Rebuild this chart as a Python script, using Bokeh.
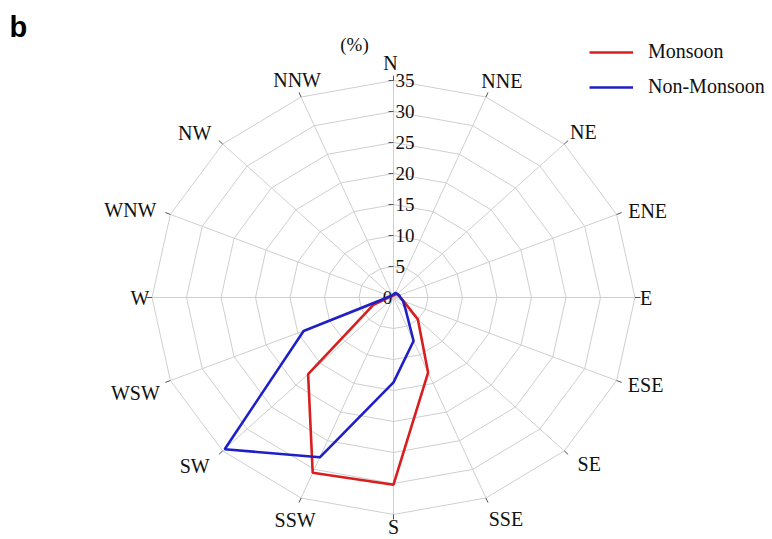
import numpy as np
from bokeh.plotting import figure
from bokeh.models import Range1d, Legend, LegendItem, Label
from bokeh.core.properties import value
from bokeh.embed import file_html
from bokeh.resources import INLINE

# ---- data ----
directions = ["N", "NNE", "NE", "ENE", "E", "ESE", "SE", "SSE",
              "S", "SSW", "SW", "WSW", "W", "WNW", "NW", "NNW"]
monsoon = [0.3, 0.5, 0.8, 0.8, 1.0, 1.6, 5.0, 13.1,
           30.2, 30.6, 17.5, 3.2, 0.8, 0.4, 0.3, 0.3]
non_monsoon = [0.5, 0.8, 0.8, 0.9, 1.0, 1.5, 2.4, 7.6,
               13.7, 27.9, 34.6, 14.1, 0.9, 0.5, 0.4, 0.4]
radial_ticks = [0, 5, 10, 15, 20, 25, 30, 35]
series_names = ["Monsoon", "Non-Monsoon"]

# ---- layout / style ----
W, H = 772, 539
CX, CY = 393, 297          # pixel position of the rose centre
XS, YS = 6.9, 6.2          # pixels per percent, horizontally / vertically
RMAX = radial_ticks[-1]
SERIF = value("Liberation Serif")
GRID = "#cfcfcf"
RED = "#d81e1e"
BLUE = "#1f1fc8"

# label offsets in pixels (dx, dy screen-down), one per direction
label_offsets = [(-3, -18), (16, -16), (19, -12), (31, -3), (11, 0), (29, 4),
                 (25, 13), (20, 21), (0, 12), (-6, 22), (-28, 15), (-35, 12),
                 (-12, 0), (-40, -4), (-28, -11), (-4, -17)]

p = figure(width=W, height=H,
           x_range=Range1d(-CX / XS, (W - CX) / XS),
           y_range=Range1d(-(H - CY) / YS, CY / YS),
           output_backend="svg", toolbar_location=None, min_border=0)
p.axis.visible = False
p.grid.visible = False
p.outline_line_color = None
p.background_fill_color = "white"

n = len(directions)
theta = np.deg2rad(np.arange(n) * 360.0 / n)
sx, cy = np.sin(theta), np.cos(theta)

# rings (16-gons)
ring_xs, ring_ys = [], []
for r in radial_ticks[1:]:
    ring_xs.append(list(np.append(r * sx, r * sx[0])))
    ring_ys.append(list(np.append(r * cy, r * cy[0])))
p.multi_line(ring_xs, ring_ys, line_color=GRID, line_width=1)

# spokes
p.segment(x0=[0] * n, y0=[0] * n, x1=list(RMAX * sx), y1=list(RMAX * cy),
          line_color=GRID, line_width=1)
# small dark ticks at spoke ends
p.segment(x0=list(RMAX * sx), y0=list(RMAX * cy),
          x1=list((RMAX + 0.8) * sx), y1=list((RMAX + 0.8) * cy),
          line_color="#555555", line_width=1)

# radial axis along N
rt = radial_ticks[1:]
p.segment(x0=[-5 / XS] * len(rt), y0=rt, x1=[0] * len(rt), y1=rt,
          line_color="#555555", line_width=1)
p.text(x=[2 / XS] * len(rt), y=rt, text=[str(t) for t in rt],
       text_font=SERIF, text_font_size="19px", text_color="#111111",
       text_align="left", text_baseline="middle")
p.text(x=[-6 / XS], y=[radial_ticks[0]], text=[str(radial_ticks[0])],
       text_font=SERIF, text_font_size="19px", text_color="#111111",
       text_align="center", text_baseline="middle")

# direction labels
p.text(x=list(RMAX * sx), y=list(RMAX * cy), text=directions,
       x_offset=[o[0] for o in label_offsets],
       y_offset=[o[1] for o in label_offsets],
       text_font=SERIF, text_font_size="20px", text_color="#111111",
       text_align="center", text_baseline="middle")

# series
renderers = []
for vals, col in [(monsoon, RED), (non_monsoon, BLUE)]:
    v = np.array(vals)
    xs = list(np.append(v * sx, v[0] * sx[0]))
    ys = list(np.append(v * cy, v[0] * cy[0]))
    renderers.append(p.line(xs, ys, line_color=col, line_width=2.6))

legend = Legend(items=[LegendItem(label=series_names[0], renderers=[renderers[0]]),
                       LegendItem(label=series_names[1], renderers=[renderers[1]])],
                location=(589, 441), orientation="vertical",
                label_text_font="Liberation Serif", label_text_font_size="20px",
                label_text_color="#111111",
                glyph_width=44, glyph_height=20, label_height=20, spacing=12,
                padding=0, margin=0, label_standoff=15,
                border_line_color=None, background_fill_alpha=0)
p.add_layout(legend)

p.add_layout(Label(x=354, y=H - 44, x_units="screen", y_units="screen", text="(%)",
                   text_font="Liberation Serif", text_font_size="19px",
                   text_color="#111111", text_align="center", text_baseline="middle"))
p.add_layout(Label(x=9, y=H - 10, x_units="screen", y_units="screen", text="b",
                   text_font="Liberation Sans", text_font_size="29px",
                   text_font_style="bold", text_color="#000000",
                   text_align="left", text_baseline="top"))

open("out.html", "w").write(file_html(p, INLINE))
